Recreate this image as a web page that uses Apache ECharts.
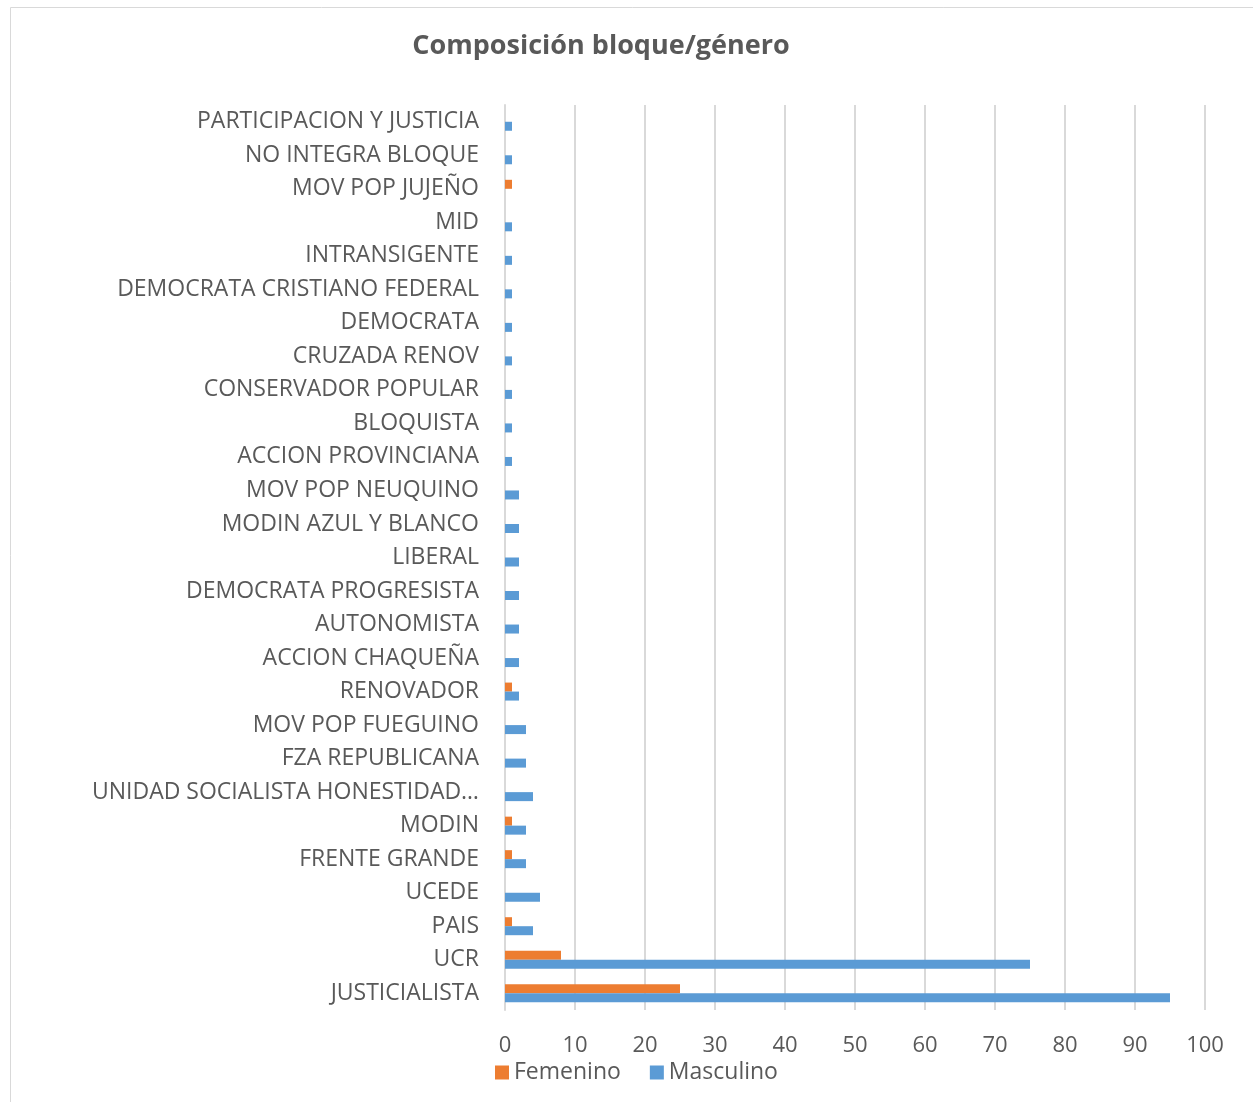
<!DOCTYPE html>
<html>
<head>
<meta charset="utf-8">
<script src="https://cdn.jsdelivr.net/npm/echarts@6/dist/echarts.min.js"></script>
<style>
  html, body { margin: 0; padding: 0; background: #fff; }
  #main { width: 1253px; height: 1102px; }
</style>
</head>
<body>
<div id="main"></div>
<script>
// bloques, de abajo hacia arriba
var bloques = ['JUSTICIALISTA', 'UCR', 'PAIS', 'UCEDE', 'FRENTE GRANDE', 'MODIN',
  'UNIDAD SOCIALISTA HONESTIDAD…', 'FZA REPUBLICANA', 'MOV POP FUEGUINO', 'RENOVADOR',
  'ACCION CHAQUEÑA', 'AUTONOMISTA', 'DEMOCRATA PROGRESISTA', 'LIBERAL',
  'MODIN AZUL Y BLANCO', 'MOV POP NEUQUINO', 'ACCION PROVINCIANA', 'BLOQUISTA',
  'CONSERVADOR POPULAR', 'CRUZADA RENOV', 'DEMOCRATA', 'DEMOCRATA CRISTIANO FEDERAL',
  'INTRANSIGENTE', 'MID', 'MOV POP JUJEÑO', 'NO INTEGRA BLOQUE', 'PARTICIPACION Y JUSTICIA'];
var femenino  = [25, 8, 1, 0, 1, 1, 0, 0, 0, 1, 0, 0, 0, 0, 0, 0, 0, 0, 0, 0, 0, 0, 0, 0, 1, 0, 0];
var masculino = [95, 75, 4, 5, 3, 3, 4, 3, 3, 2, 2, 2, 2, 2, 2, 2, 1, 1, 1, 1, 1, 1, 1, 1, 0, 1, 1];
var ejeX = [0, 100, 10]; // min, max, intervalo

var chart = echarts.init(document.getElementById('main'));
var txt = '#595959';
var fuente = '"Open Sans", sans-serif';

chart.setOption({
  animation: false,
  title: {
    text: 'Composición bloque/género',
    left: 596, top: 28, textAlign: 'center',
    textStyle: { fontFamily: fuente, fontWeight: 'bold', fontSize: 27, color: txt }
  },
  graphic: [{
    type: 'rect', silent: true,
    shape: { x: 10.5, y: 7.5, width: 1300, height: 1200 },
    style: { fill: 'none', stroke: '#d9d9d9', lineWidth: 1 }
  }],
  legend: {
    left: 490, top: 1056,
    itemWidth: 14, itemHeight: 14, itemGap: 29, itemStyle: { borderWidth: 0 },
    icon: 'rect',
    textStyle: { fontFamily: fuente, fontSize: 23, color: txt },
    data: ['Femenino', 'Masculino']
  },
  grid: { left: 505, right: 48, top: 105, bottom: 92, containLabel: false },
  xAxis: {
    type: 'value', min: ejeX[0], max: ejeX[1], interval: ejeX[2],
    axisLine: { show: false }, axisTick: { show: false },
    splitLine: { lineStyle: { color: '#d9d9d9', width: 2 } },
    axisLabel: { fontFamily: fuente, fontSize: 22, color: txt, margin: 25 }
  },
  yAxis: {
    type: 'category', data: bloques,
    axisLine: { lineStyle: { color: '#d9d9d9', width: 2 } },
    axisTick: { show: false },
    axisLabel: { fontFamily: fuente, fontSize: 23, color: txt, margin: 26 }
  },
  series: [{
    name: 'Femenino', type: 'bar', data: femenino,
    barWidth: 9, barGap: '0%',
    itemStyle: { color: '#ed7d31' }
  }, {
    name: 'Masculino', type: 'bar', data: masculino,
    barWidth: 9, barGap: '0%',
    itemStyle: { color: '#5b9bd5' }
  }]
});
</script>
</body>
</html>
